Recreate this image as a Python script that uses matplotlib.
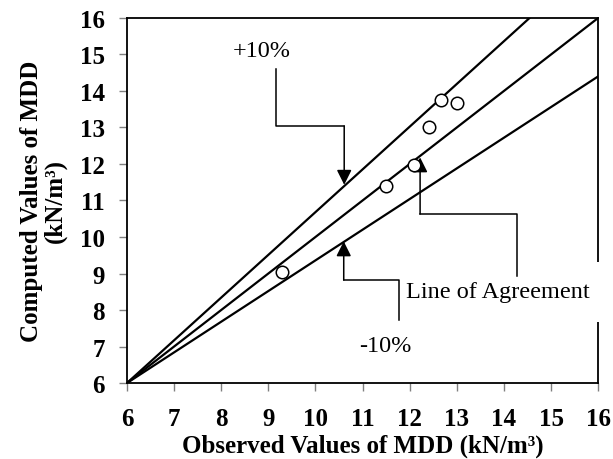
import matplotlib.pyplot as plt

plt.rcParams['font.family'] = ['Liberation Serif', 'DejaVu Serif']

# observed vs computed MDD (kN/m3)
observed = [9.3, 11.5, 12.08, 12.41, 12.66, 13.01]
computed = [9.05, 11.39, 11.98, 13.0, 13.76, 13.67]

# reference lines (end points)
agree_x, agree_y = [6, 16], [6, 16]
plus_x, plus_y = [6, 14.545], [6, 16]
minus_x, minus_y = [6, 16], [6, 14.4]

ticks = list(range(6, 17))

fig = plt.figure(figsize=(6.13, 4.6), dpi=100)
ax = fig.add_axes([0.207, 0.165, 0.769, 0.794])

ax.plot(agree_x, agree_y, color='black', lw=1.6)
ax.plot(plus_x, plus_y, color='black', lw=1.6)
ax.plot(minus_x, minus_y, color='black', lw=1.6)
ax.plot(observed, computed, 'o', mfc='white', mec='black', ms=9, mew=1.1, zorder=5)

ax.set_xlim(6, 16)
ax.set_ylim(6, 16)
ax.set_xticks(ticks)
ax.set_yticks(ticks)
ax.tick_params(direction='out', length=6, width=1, color='#808080', labelsize=18)
ax.tick_params(axis='x', pad=11)
ax.tick_params(axis='y', pad=10)
for lab in ax.get_xticklabels() + ax.get_yticklabels():
    lab.set_fontweight('bold')
for s in ax.spines.values():
    s.set_linewidth(1.3)

ax.set_xlabel('Observed Values of MDD (kN/m³)', fontsize=18, fontweight='bold', labelpad=3)
ax.set_ylabel('Computed Values of MDD\n(kN/m³)', fontsize=18, fontweight='bold',
              linespacing=1.05, labelpad=9)

arrow = dict(arrowstyle='-|>,head_length=0.9,head_width=0.45', color='black', lw=1.1,
             shrinkA=0, shrinkB=0, mutation_scale=10)

# +10% callout
ax.text(8.25, 15.1, '+10%', fontsize=17.5, va='center', ha='left')
ax.plot([9.16, 9.16, 10.61], [14.6, 13.04, 13.04], color='black', lw=1.1, zorder=4)
ax.annotate('', xy=(10.61, 11.43), xytext=(10.61, 13.04), arrowprops=arrow, zorder=4)

# -10% callout
ax.text(11.48, 7.02, '-10%', fontsize=17.5, va='center', ha='center')
ax.plot([11.78, 11.78, 10.6], [7.73, 8.82, 8.82], color='black', lw=1.1, zorder=4)
ax.annotate('', xy=(10.6, 9.88), xytext=(10.6, 8.82), arrowprops=arrow, zorder=4)

# line of agreement callout
ax.text(11.92, 8.5, 'Line of Agreement', fontsize=17.5, va='center', ha='left', zorder=3,
        bbox=dict(facecolor='white', edgecolor='none', pad=14), clip_on=False)
ax.plot([14.28, 14.28, 12.22], [8.94, 10.63, 10.63], color='black', lw=1.1, zorder=4)
ax.annotate('', xy=(12.22, 12.18), xytext=(12.22, 10.63), arrowprops=arrow, zorder=4)

fig.savefig('out.png', dpi=100)
